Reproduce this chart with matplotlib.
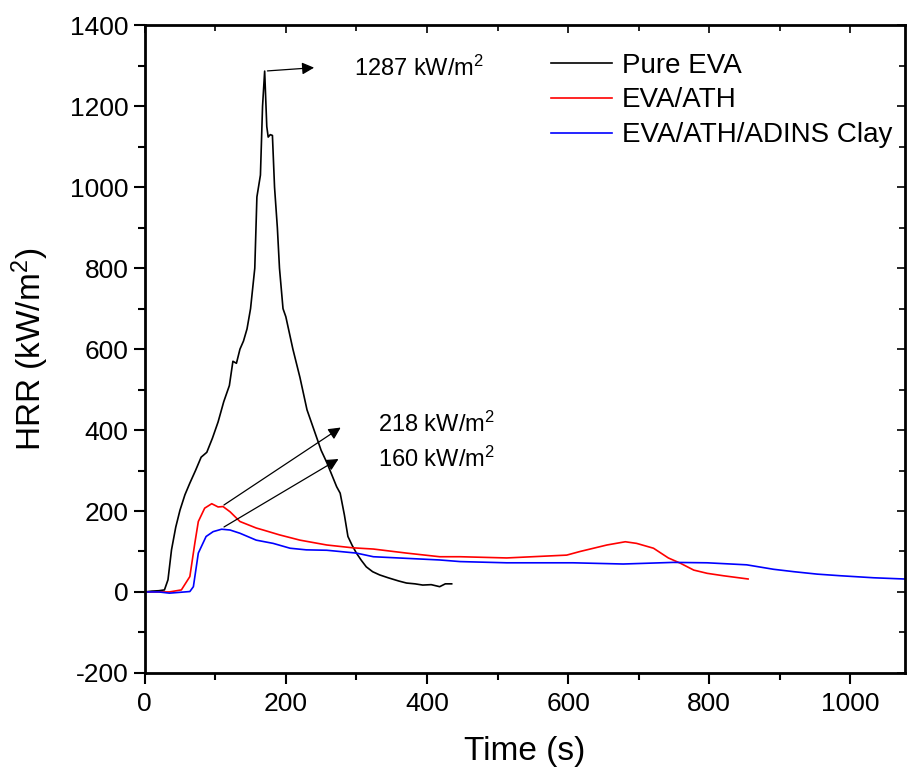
import matplotlib
matplotlib.use('Agg')
import matplotlib.pyplot as plt

plt.rcParams['font.family'] = ['Liberation Sans', 'DejaVu Sans']
plt.rcParams['axes.unicode_minus'] = False
plt.rcParams['mathtext.fontset'] = 'custom'
plt.rcParams['mathtext.rm'] = 'Liberation Sans'
plt.rcParams['mathtext.it'] = 'Liberation Sans:italic'

# Pure EVA
t_eva = [0, 10, 20, 28, 33, 38, 44, 50, 57, 64, 72, 80, 88, 96, 104, 112, 120, 125, 130,
         135, 140, 145, 150, 156, 159, 164, 167, 170, 173, 175, 178, 181, 184, 188, 191,
         196, 200, 205, 210, 220, 230, 240, 250, 258, 265, 272, 277, 283, 288, 294, 300,
         307, 314, 323, 333, 345, 360, 371, 383, 394, 406, 418, 426, 430, 435]
hrr_eva = [0, 2, 3, 5, 30, 104, 160, 202, 240, 269, 300, 333, 345, 380, 420, 470, 510, 570, 565,
           600, 620, 650, 700, 800, 976, 1030, 1200, 1287, 1150, 1124, 1130, 1128, 1000, 900, 800,
           700, 680, 640, 600, 530, 450, 400, 350, 320, 290, 260, 244, 190, 137, 115, 96,
           78, 62, 50, 42, 35, 27, 22, 20, 17, 18, 13, 20, 20, 20]

# EVA/ATH
t_ath = [0, 20, 35, 52, 64, 71, 76, 85, 95, 104, 111, 121, 135, 158, 168, 191, 220, 258,
         295, 324, 371, 418, 447, 513, 598, 617, 655, 681, 697, 721, 742, 759, 778, 797, 820, 855]
hrr_ath = [0, 0, 0, 5, 38, 120, 174, 207, 218, 210, 211, 198, 174, 158, 153, 141, 128, 116,
           109, 106, 96, 87, 87, 84, 91, 100, 116, 124, 120, 108, 84, 71, 54, 46, 40, 32]

# EVA/ATH/ADINS Clay
t_clay = [0, 20, 35, 64, 69, 76, 87, 97, 109, 121, 135, 158, 182, 206, 229, 258, 300, 324,
          371, 418, 447, 513, 607, 678, 749, 797, 853, 891, 920, 953, 986, 1033, 1076]
hrr_clay = [0, 0, -3, 1, 13, 96, 137, 149, 155, 153, 145, 128, 120, 108, 104, 103, 96, 87,
            83, 79, 75, 72, 72, 69, 73, 72, 67, 56, 50, 44, 40, 35, 32]

fig = plt.figure(figsize=(9.1, 7.69), dpi=100)
ax = fig.add_axes([0.159, 0.125, 0.836, 0.842])

ax.plot(t_eva, hrr_eva, color='black', lw=1.2, label='Pure EVA')
ax.plot(t_ath, hrr_ath, color='red', lw=1.2, label='EVA/ATH')
ax.plot(t_clay, hrr_clay, color='blue', lw=1.2, label='EVA/ATH/ADINS Clay')

ax.set_xlim(0, 1078)
ax.set_ylim(-200, 1400)
ax.set_xticks(range(0, 1001, 200))
ax.set_xticks(range(0, 1078, 100), minor=True)
ax.set_yticks(range(-200, 1401, 200))
ax.set_yticks(range(-200, 1401, 100), minor=True)
ax.tick_params(which='both', direction='out', labelsize=19, width=1.5)
ax.tick_params(which='major', length=8)
ax.tick_params(which='minor', length=5)
ax.tick_params(axis='x', pad=6)
for s in ax.spines.values():
    s.set_linewidth(2)

# inward ticks on top and right
top = ax.secondary_xaxis('top')
top.set_xticks(range(0, 1001, 200))
top.set_xticks(range(0, 1078, 100), minor=True)
top.tick_params(which='both', direction='in', labeltop=False, width=1.2)
top.tick_params(which='major', length=6)
top.tick_params(which='minor', length=4)
right = ax.secondary_yaxis('right')
right.set_yticks(range(-200, 1401, 200))
right.set_yticks(range(-200, 1401, 100), minor=True)
right.tick_params(which='both', direction='in', labelright=False, width=1.2)
right.tick_params(which='major', length=6)
right.tick_params(which='minor', length=4)

ax.set_xlabel('Time (s)', fontsize=24, labelpad=14)
ax.set_ylabel('HRR (kW/m$^2$)', fontsize=24, labelpad=14)

arrow = dict(arrowstyle='-|>', color='black', lw=0.9, mutation_scale=18)
ax.annotate('', xy=(244, 1296), xytext=(170, 1287), arrowprops=arrow)
ax.annotate('', xy=(281, 410), xytext=(109, 211), arrowprops=arrow)
ax.annotate('', xy=(278, 332), xytext=(109, 157), arrowprops=arrow)
ax.text(296, 1295, '1287 kW/m$^2$', fontsize=17, va='center')
ax.text(330, 415, '218 kW/m$^2$', fontsize=17, va='center')
ax.text(330, 328, '160 kW/m$^2$', fontsize=17, va='center')

ax.legend(loc='upper left', bbox_to_anchor=(0.534, 0.958), frameon=False, fontsize=20,
          handlelength=2.2, handletextpad=0.35, labelspacing=0.32, borderpad=0,
          borderaxespad=0)

fig.savefig('out.png', dpi=100)
